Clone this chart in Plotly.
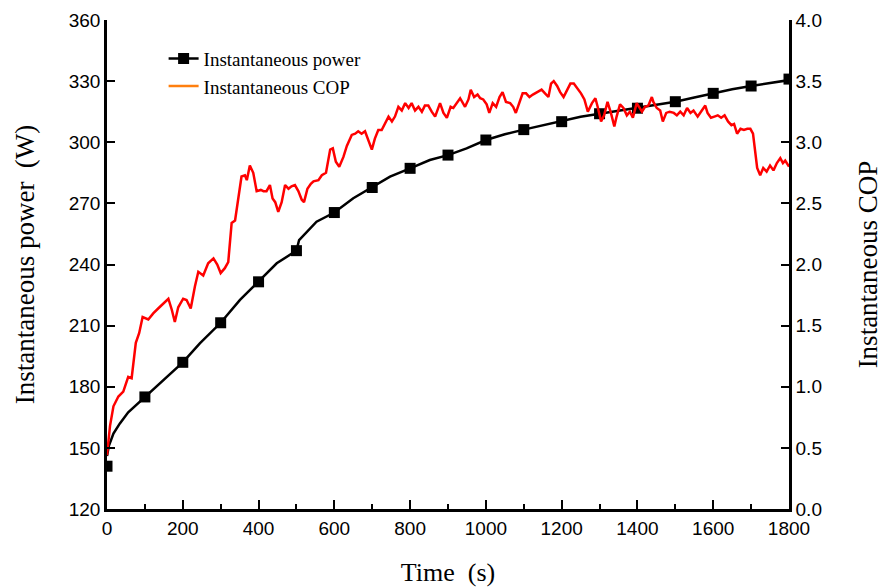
import plotly.graph_objects as go

# Instantaneous power (black line), dense trace
power_t = [0, 5, 17, 34, 56, 100, 157, 200, 245, 300, 351, 400, 448, 500, 507, 553, 600, 650, 700,
           747, 800, 852, 900, 949, 1000, 1050, 1100, 1150, 1200, 1250, 1300, 1350, 1400, 1450,
           1500, 1550, 1600, 1650, 1700, 1750, 1800]
power_w = [146, 151, 157, 162, 167.5, 175, 185, 192, 201.3, 211.4, 222.6, 231.5, 240.6, 246.8, 252,
           261, 265.5, 272.5, 278, 283.1, 287.2, 291.3, 293.7, 297, 301.1, 303.9, 306.2, 308.3, 310.1,
           312.5, 314, 315.5, 316.7, 318.3, 319.9, 322, 324, 326, 327.6, 329, 330.5]

# Power markers every 100 s
marker_t = [0, 100, 200, 300, 400, 500, 600, 700, 800, 900, 1000, 1100, 1200, 1300, 1400, 1500,
            1600, 1700, 1800]
marker_w = [141, 175, 192, 211.4, 231.5, 246.8, 265.5, 277.8, 287.2, 293.7, 301.1, 306.2, 310.1,
            314, 316.7, 319.9, 324, 327.6, 331]

# Instantaneous COP (red line)
cop_t = [0, 8, 17, 30, 43, 56, 65, 76, 85, 94, 109, 122, 135, 149, 162, 171, 179, 188, 201, 210,
         221, 232, 241, 254, 267, 281, 291, 300, 311, 320, 329, 338, 347, 355, 364, 369, 377, 386,
         395, 406, 413, 421, 430, 437, 444, 452, 461, 470, 479, 487, 496, 505, 514, 520, 529, 538,
         545, 558, 567, 578, 589, 596, 604, 613, 624, 633, 646, 655, 663, 672, 681, 690, 699, 707,
         716, 725, 734, 743, 752, 760, 769, 778, 787, 796, 804, 813, 822, 831, 839, 848, 857, 866,
         879, 888, 897, 907, 914, 923, 932, 945, 954, 960, 969, 978, 985, 993, 1002, 1009, 1018,
         1027, 1036, 1044, 1053, 1064, 1072, 1079, 1088, 1097, 1106, 1115, 1124, 1134, 1147, 1156,
         1165, 1172, 1179, 1188, 1196, 1205, 1214, 1223, 1232, 1242, 1251, 1260, 1269, 1280, 1289,
         1295, 1304, 1312, 1321, 1330, 1339, 1345, 1354, 1363, 1372, 1380, 1388, 1398, 1405, 1412,
         1420, 1429, 1438, 1442, 1451, 1460, 1467, 1476, 1485, 1496, 1504, 1513, 1522, 1531, 1540,
         1548, 1559, 1570, 1579, 1585, 1594, 1603, 1612, 1621, 1630, 1639, 1648, 1655, 1663, 1672,
         1681, 1690, 1698, 1705, 1711, 1716, 1724, 1732, 1741, 1750, 1759, 1768, 1777, 1784, 1790,
         1800]
cop_v = [0.44, 0.68, 0.84, 0.92, 0.96, 1.08, 1.07, 1.36, 1.44, 1.57, 1.55, 1.60, 1.64, 1.68, 1.72,
         1.63, 1.53, 1.65, 1.72, 1.71, 1.64, 1.82, 1.94, 1.91, 2.01, 2.05, 2.00, 1.93, 1.97, 2.02,
         2.34, 2.36, 2.56, 2.72, 2.73, 2.69, 2.81, 2.75, 2.60, 2.61, 2.60, 2.60, 2.65, 2.54, 2.51,
         2.43, 2.51, 2.65, 2.62, 2.64, 2.65, 2.60, 2.53, 2.51, 2.62, 2.66, 2.68, 2.69, 2.73, 2.75,
         2.94, 2.95, 2.84, 2.80, 2.88, 2.97, 3.06, 3.07, 3.09, 3.07, 3.09, 3.02, 2.94, 3.03, 3.10,
         3.10, 3.15, 3.21, 3.17, 3.21, 3.29, 3.26, 3.32, 3.28, 3.32, 3.26, 3.29, 3.25, 3.30, 3.30,
         3.25, 3.21, 3.32, 3.24, 3.20, 3.29, 3.28, 3.32, 3.36, 3.29, 3.35, 3.43, 3.37, 3.39, 3.36,
         3.35, 3.31, 3.24, 3.32, 3.29, 3.37, 3.41, 3.33, 3.32, 3.29, 3.24, 3.33, 3.40, 3.40, 3.37,
         3.39, 3.41, 3.43, 3.40, 3.37, 3.48, 3.50, 3.46, 3.41, 3.37, 3.43, 3.48, 3.48, 3.44, 3.40,
         3.35, 3.25, 3.32, 3.36, 3.29, 3.17, 3.22, 3.33, 3.24, 3.13, 3.21, 3.31, 3.28, 3.22, 3.25,
         3.20, 3.32, 3.28, 3.25, 3.29, 3.30, 3.37, 3.33, 3.28, 3.26, 3.17, 3.24, 3.25, 3.24, 3.22,
         3.25, 3.22, 3.28, 3.24, 3.26, 3.21, 3.26, 3.30, 3.24, 3.20, 3.21, 3.22, 3.20, 3.22, 3.17,
         3.14, 3.15, 3.07, 3.11, 3.10, 3.11, 3.11, 3.07, 2.91, 2.79, 2.73, 2.79, 2.76, 2.81, 2.77,
         2.83, 2.87, 2.83, 2.85, 2.80]

x_ticks = list(range(0, 1801, 200))
power_ticks = list(range(120, 361, 30))
cop_ticks = [0.0, 0.5, 1.0, 1.5, 2.0, 2.5, 3.0, 3.5, 4.0]

SERIF = "Liberation Serif, Times New Roman, serif"
SANS = "Liberation Sans, Arial, sans-serif"

fig = go.Figure()

fig.add_trace(go.Scatter(x=cop_t, y=cop_v, mode="lines", yaxis="y2",
                         line=dict(color="#ff0000", width=2.5), showlegend=False))
fig.add_trace(go.Scatter(x=power_t, y=power_w, mode="lines",
                         line=dict(color="black", width=2.5), showlegend=False))
fig.add_trace(go.Scatter(x=marker_t, y=marker_w, mode="markers",
                         marker=dict(symbol="square", size=11, color="black"), showlegend=False))

# legend entries
fig.add_trace(go.Scatter(x=[None], y=[None], mode="lines+markers", name="Instantaneous power",
                         line=dict(color="black", width=2.5),
                         marker=dict(symbol="square", size=11, color="black")))
fig.add_trace(go.Scatter(x=[None], y=[None], mode="lines", name="Instantaneous COP",
                         line=dict(color="#ff7f0e", width=2.5)))

axis_common = dict(showline=True, linecolor="black", linewidth=2.5, ticks="inside",
                   tickcolor="black", tickwidth=2, showgrid=False, zeroline=False,
                   automargin=False,
                   tickfont=dict(family=SANS, size=19, color="black"))

fig.update_layout(
    width=890, height=587,
    margin=dict(l=107, r=101, t=20, b=78),
    plot_bgcolor="white", paper_bgcolor="white",
    xaxis=dict(range=[0, 1800], tickvals=x_ticks, ticklen=9,
               minor=dict(dtick=100, ticks="inside", ticklen=5, tickcolor="black", tickwidth=1.5),
               title=dict(text="Time  (s)", font=dict(family=SERIF, size=26, color="black"),
                          standoff=26),
               **axis_common),
    yaxis=dict(range=[120, 360], tickvals=power_ticks, ticklen=8,
               title=dict(text="Instantaneous power  (W)",
                          font=dict(family=SERIF, size=27, color="black"), standoff=27),
               **axis_common),
    yaxis2=dict(range=[0, 4], tickvals=cop_ticks, tickformat=".1f", ticklen=8,
                overlaying="y", side="right", anchor="x",
                title=dict(text="Instantaneous COP",
                           font=dict(family=SERIF, size=27, color="black"), standoff=38),
                **axis_common),
    legend=dict(x=0.083, y=0.96, xanchor="left", yanchor="top", bgcolor="rgba(0,0,0,0)",
                font=dict(family=SERIF, size=19, color="black"), tracegroupgap=0),
)

fig.write_html("out.html")
